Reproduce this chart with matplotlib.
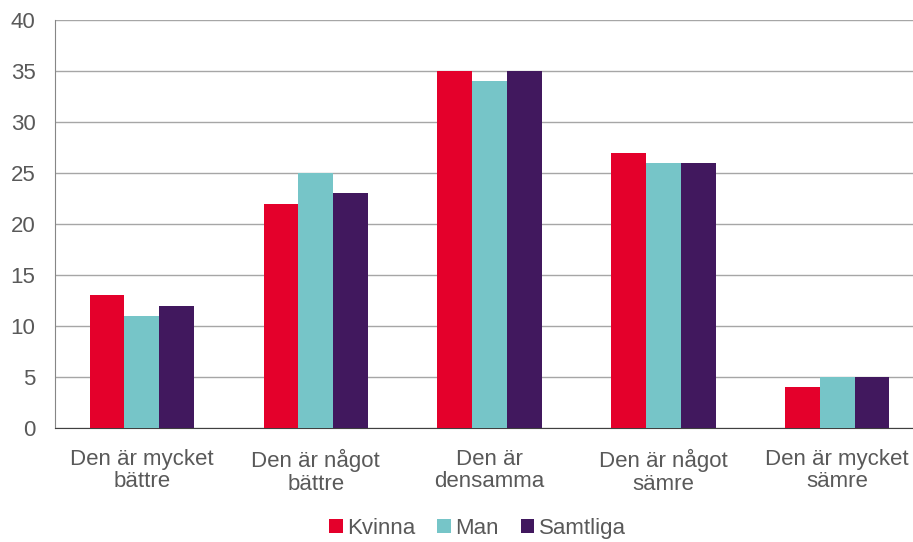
import matplotlib.pyplot as plt
import numpy as np

plt.rcParams['font.family'] = ['Liberation Sans', 'DejaVu Sans']

categories = ['Den är mycket\nbättre', 'Den är något\nbättre', 'Den är\ndensamma',
              'Den är något\nsämre', 'Den är mycket\nsämre']
kvinna = [13, 22, 35, 27, 4]
man = [11, 25, 34, 26, 5]
samtliga = [12, 23, 35, 26, 5]

series = [('Kvinna', kvinna, '#E4002B'),
          ('Man', man, '#76C5C8'),
          ('Samtliga', samtliga, '#41185E')]

text_col = '#595959'

fig = plt.figure(figsize=(9.13, 5.42), dpi=100)
# the plot area runs slightly past the right edge of the figure, as in the original
ax = fig.add_axes([0.0602, 0.2103, 0.952, 0.7527])

x = np.arange(len(categories))
w = 0.2
for i, (name, vals, col) in enumerate(series):
    ax.bar(x + (i - 1) * w, vals, width=w, color=col, label=name, zorder=3)

ax.set_xlim(-0.5, len(categories) - 0.5)
ax.set_ylim(0, 40)
ax.set_yticks(range(0, 41, 5))
ax.set_xticks(x)
ax.set_xticklabels(categories, linespacing=1.1)
ax.yaxis.grid(True, color='#A6A6A6', linewidth=1, zorder=0)

for s in ['top', 'right']:
    ax.spines[s].set_visible(False)
ax.spines['left'].set_color('#868686')
ax.spines['bottom'].set_color('#404040')
ax.tick_params(axis='both', length=0, labelsize=16, colors=text_col)
ax.tick_params(axis='x', pad=15)
ax.tick_params(axis='y', pad=14)

leg = fig.legend(loc='center', bbox_to_anchor=(0.523, 0.025), ncol=3, frameon=False,
                 fontsize=16, handlelength=0.6, handleheight=0.6, handletextpad=0.2,
                 columnspacing=1.0, borderpad=0)
for t in leg.get_texts():
    t.set_color(text_col)

fig.savefig('out.png', dpi=100)
